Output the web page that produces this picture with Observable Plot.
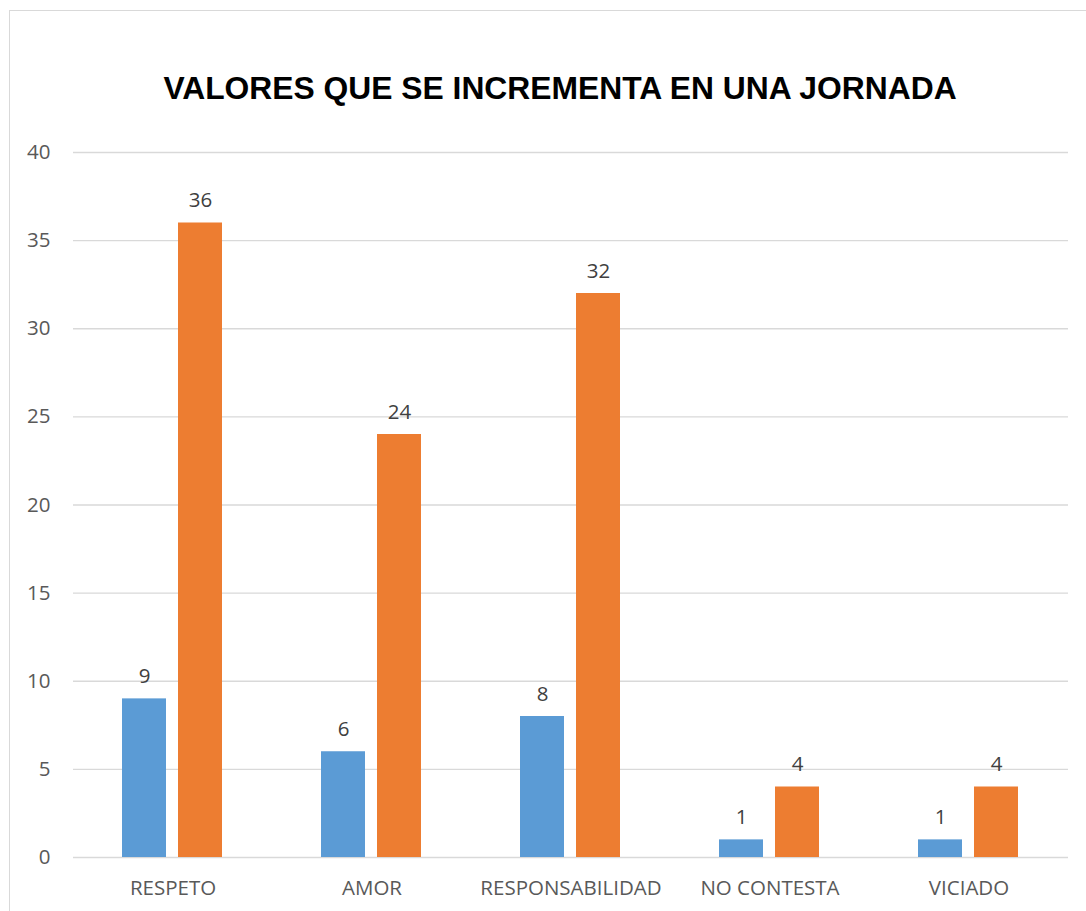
<!DOCTYPE html>
<html>
<head>
<meta charset="utf-8">
<script src="https://cdn.jsdelivr.net/npm/d3@7"></script>
<script src="https://cdn.jsdelivr.net/npm/@observablehq/plot@0.6"></script>
<style>
  html, body { margin: 0; padding: 0; background: #fff; }
  #wrap { position: relative; width: 1086px; height: 911px; overflow: hidden; }
  #frame { position: absolute; left: 9px; top: 10px; width: 1100px; height: 920px; border: 1.5px solid #d9d9d9; box-sizing: border-box; }
  #title { position: absolute; left: 0; top: 70px; width: 1120px; text-align: center;
           font-family: "Liberation Sans", Arial, sans-serif; font-weight: bold; font-size: 31.8px; color: #000; }
  #chart { position: absolute; left: 0; top: 0; }
</style>
</head>
<body>
<div id="wrap">
  <div id="frame"></div>
  <div id="title">VALORES QUE SE INCREMENTA EN UNA JORNADA</div>
  <div id="chart"></div>
</div>
<script>
const categories = ["RESPETO", "AMOR", "RESPONSABILIDAD", "NO CONTESTA", "VICIADO"];
const seriesNames = ["Serie 1", "Serie 2"];
const serie1 = [9, 6, 8, 1, 1];
const serie2 = [36, 24, 32, 4, 4];
const yTicks = [0, 5, 10, 15, 20, 25, 30, 35, 40];
const colors = ["#5B9BD5", "#ED7D31"];

const data = [];
categories.forEach((c, i) => {
  data.push({category: c, series: seriesNames[0], value: serie1[i]});
  data.push({category: c, series: seriesNames[1], value: serie2[i]});
});

const font = "'Open Sans', 'Liberation Sans', sans-serif";

const plot = Plot.plot({
  width: 1086,
  height: 911,
  marginLeft: 72,
  marginRight: 18,
  marginTop: 152,
  marginBottom: 54,
  style: { fontFamily: font, fontSize: "20px", background: "transparent" },
  fx: { domain: categories, padding: 0, label: null },
  x: { domain: seriesNames, paddingInner: 0.21, paddingOuter: 0.853, axis: null },
  y: { domain: [0, 40], ticks: yTicks, label: null },
  color: { domain: seriesNames, range: colors },
  marks: [
    Plot.gridY(yTicks, { stroke: "#d9d9d9", strokeOpacity: 1, strokeWidth: 1.3, facetAnchor: null }),
    Plot.axisY({ ticks: yTicks, tickSize: 0, tickPadding: 23, fill: "#595959", fontSize: 20.5, label: null, facetAnchor: "left" }),
    Plot.axisFx({ anchor: "bottom", tickSize: 0, tickPadding: 23, fill: "#595959", fontSize: 20.5, label: null }),
    Plot.barY(data, { fx: "category", x: "series", y: "value", fill: "series" }),
    Plot.text(data, { fx: "category", x: "series", y: "value", text: d => String(d.value),
      lineAnchor: "bottom", dy: -16, fill: "#404040", fontSize: 20.5 })
  ]
});
document.getElementById("chart").appendChild(plot);
</script>
</body>
</html>
